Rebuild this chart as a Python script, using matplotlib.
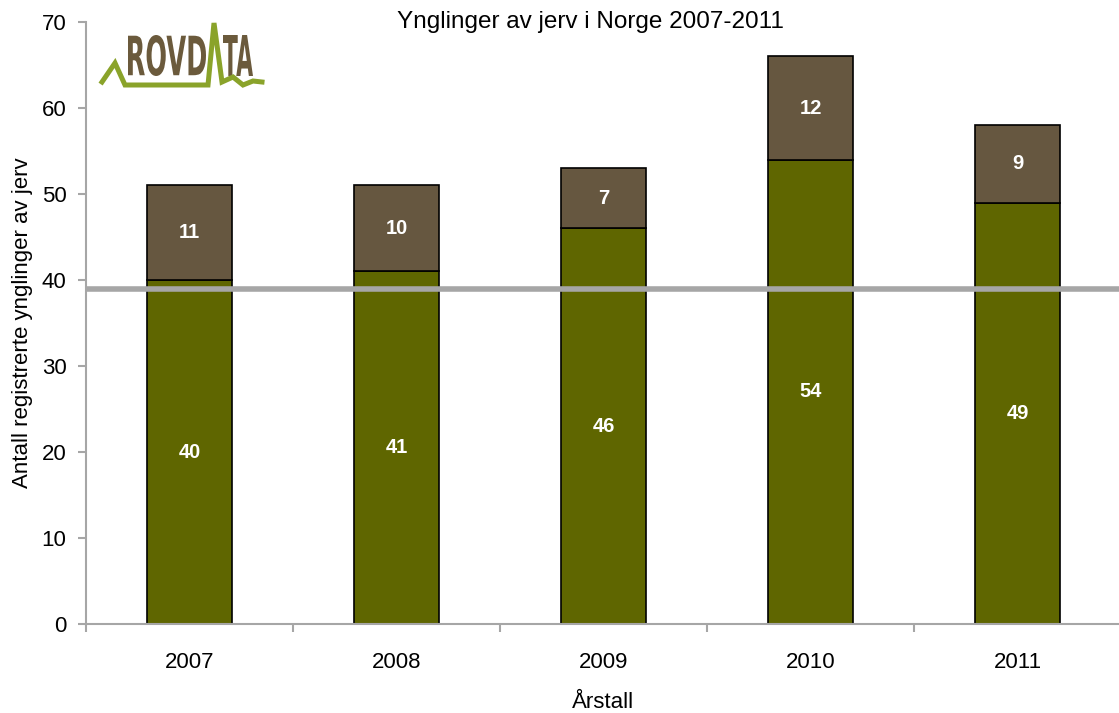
import matplotlib.pyplot as plt
from matplotlib.lines import Line2D
from matplotlib.patches import PathPatch
from matplotlib.textpath import TextPath
from matplotlib.font_manager import FontProperties
from matplotlib.transforms import Affine2D

plt.rcParams['font.family'] = ['Liberation Sans', 'DejaVu Sans']

years = ['2007', '2008', '2009', '2010', '2011']
lower = [40, 41, 46, 54, 49]
upper = [11, 10, 7, 12, 9]
target = 39

green = '#5f6600'
brown = '#665740'
grey = '#a6a6a6'

W, H = 1119, 713
fig = plt.figure(figsize=(W / 100, H / 100), dpi=100)
ax = fig.add_axes([86 / W, 1 - 624 / H, 1035 / W, (624 - 22) / H])

x = range(len(years))
ax.bar(x, lower, width=0.41, color=green, edgecolor='black', linewidth=1.2, zorder=2)
ax.bar(x, upper, bottom=lower, width=0.41, color=brown, edgecolor='black', linewidth=1.2, zorder=2)

for i in x:
    ax.text(i, lower[i] / 2, str(lower[i]), ha='center', va='center', color='white',
            fontsize=14.5, fontweight='bold', zorder=4)
    ax.text(i, lower[i] + upper[i] / 2, str(upper[i]), ha='center', va='center', color='white',
            fontsize=14.5, fontweight='bold', zorder=4)

ax.axhline(target, color=grey, linewidth=4, zorder=3)

ax.set_xlim(-0.5, len(years) - 0.5)
ax.set_ylim(0, 70)
ax.set_yticks(range(0, 71, 10))
ax.set_xticks([i - 0.5 for i in range(len(years) + 1)])
ax.set_xticklabels([])
ax.set_xticks(list(x), minor=True)
ax.set_xticklabels(years, minor=True)
ax.tick_params(axis='x', which='minor', length=0, pad=20, labelsize=16)
ax.tick_params(axis='x', which='major', length=6, color=grey, width=1.5)
ax.tick_params(axis='y', length=6, color=grey, width=1.5, labelsize=16, pad=8)

for s in ['top', 'right']:
    ax.spines[s].set_visible(False)
for s in ['left', 'bottom']:
    ax.spines[s].set_color(grey)
    ax.spines[s].set_linewidth(1.5)

ax.set_ylabel('Antall registrerte ynglinger av jerv', fontsize=16, labelpad=6)
fig.text(603 / W, 1 - 703 / H, 'Årstall', ha='center', va='center', fontsize=16)
fig.text(590 / W, 1 - 22 / H, 'Ynglinger av jerv i Norge 2007-2011', ha='center', va='center',
         fontsize=17.5)

# Rovdata logo (pixel coordinates, top-down)
lx = [102, 115, 125, 208, 214, 222, 233, 243, 253, 262]
ly = [82, 63, 85, 85, 23, 82, 77, 85, 81, 82]
fig.add_artist(Line2D([v / W for v in lx], [1 - v / H for v in ly], color='#8aa32a', linewidth=3.6,
                      solid_joinstyle='miter'))


def logo_text(s, x0, x1, top, bottom):
    tp = TextPath((0, 0), s, size=1, prop=FontProperties(family='DejaVu Sans', weight='bold'))
    bb = tp.get_extents()
    sx = (x1 - x0) / bb.width
    sy = (bottom - top) / bb.height
    tr = Affine2D().translate(-bb.x0, -bb.y0).scale(sx, sy).translate(x0, H - bottom)
    fig.add_artist(PathPatch(tr.transform_path(tp), facecolor='#6b5a3c', edgecolor='none',
                             transform=None))


logo_text('ROVD', 128, 206, 35, 76)
logo_text('TA', 223, 253, 35, 76)

fig.savefig('out.png', dpi=100)
